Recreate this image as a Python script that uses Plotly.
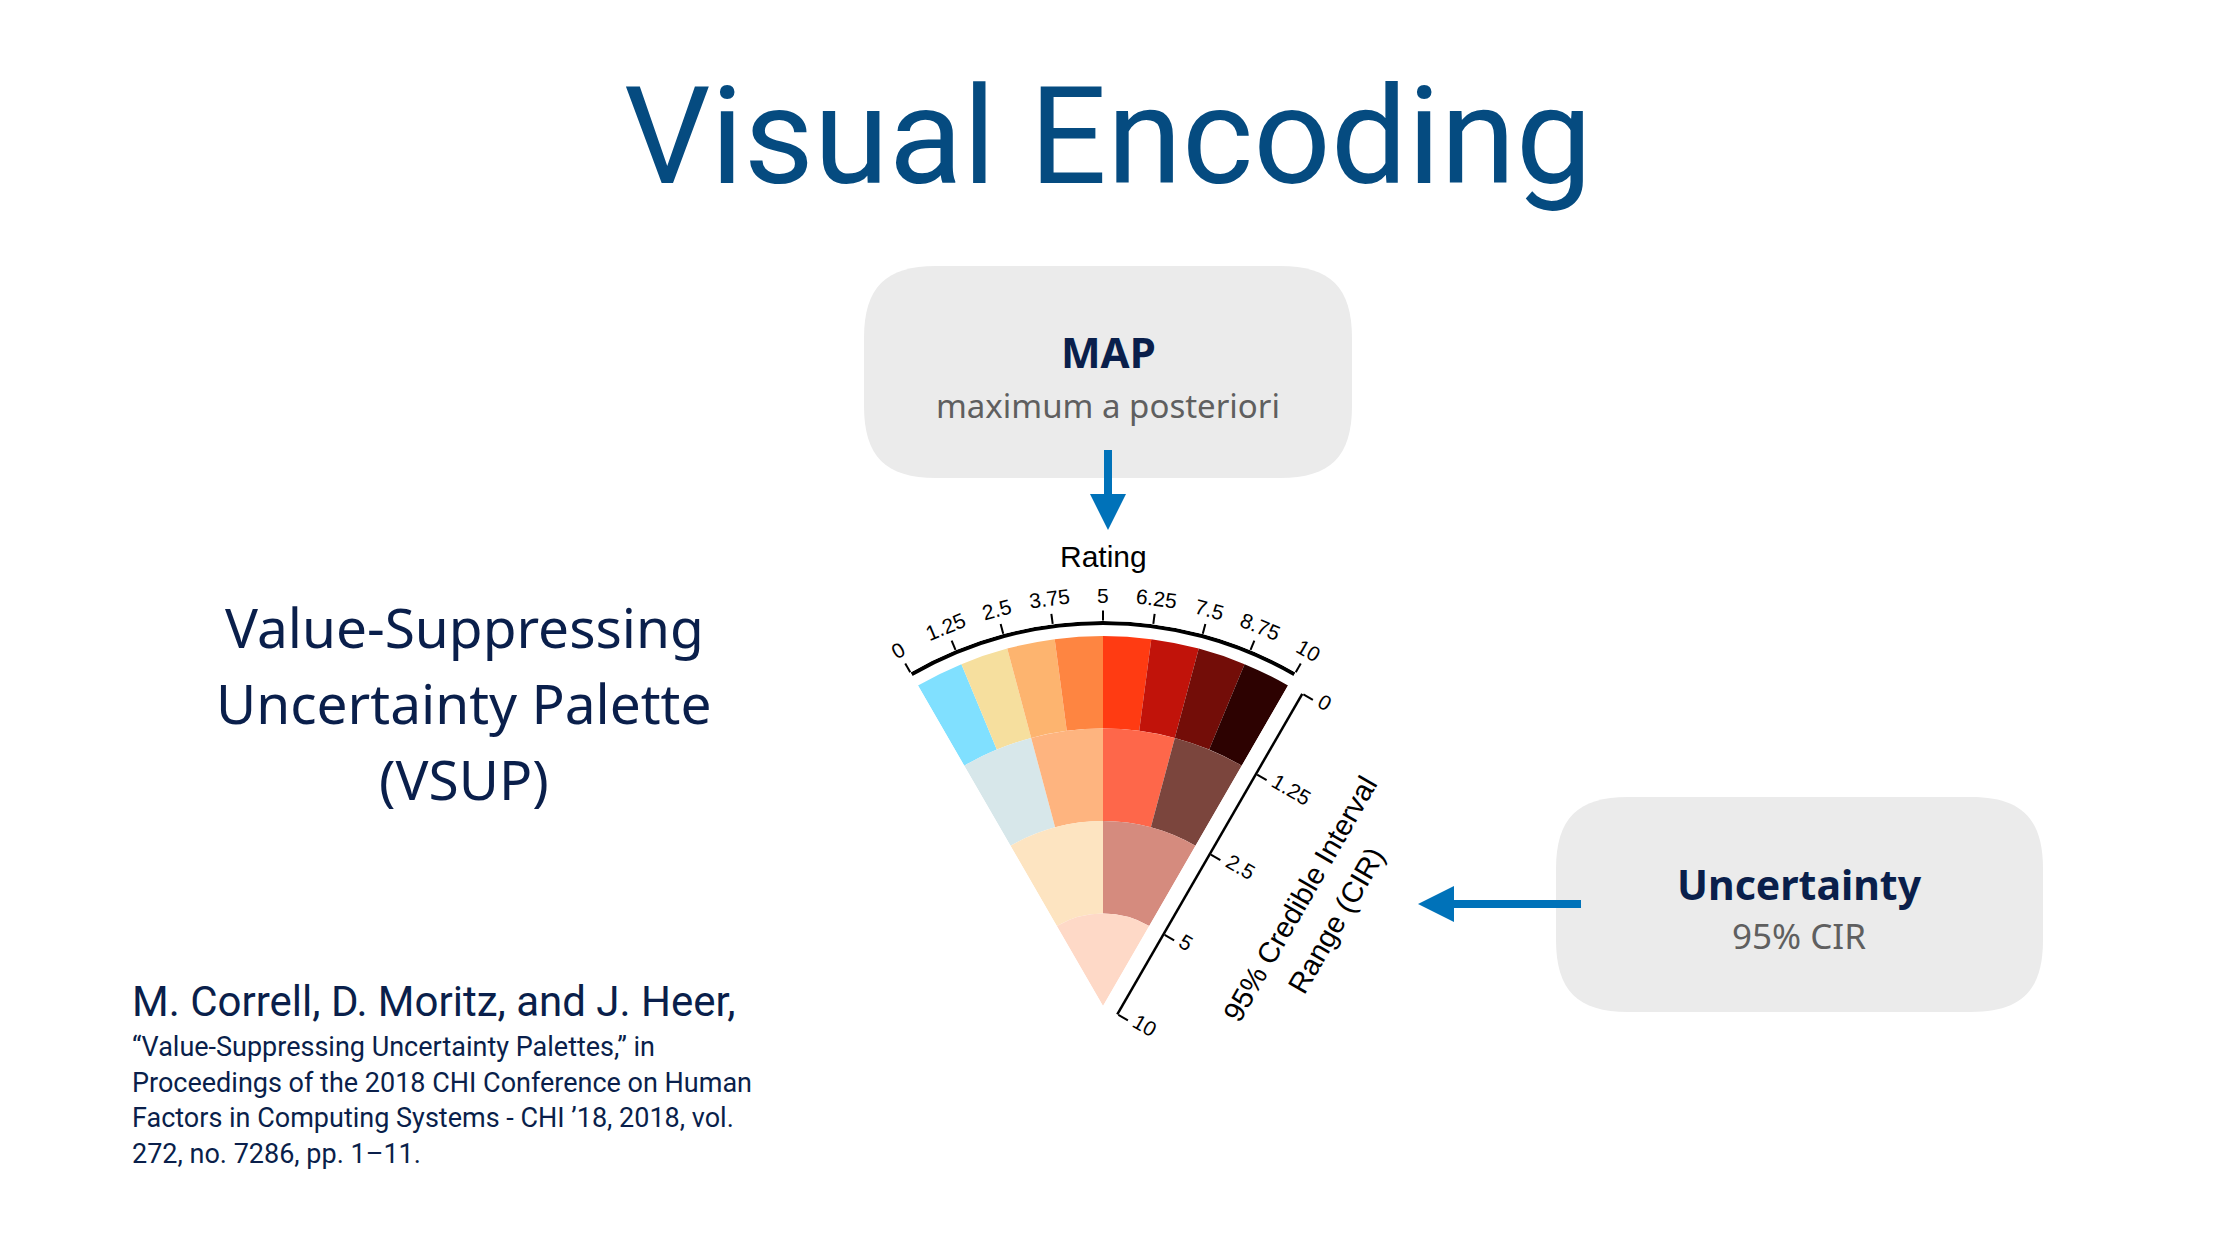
import math
import plotly.graph_objects as go

# ---------------- data ----------------
rating_ticks = [0, 1.25, 2.5, 3.75, 5, 6.25, 7.5, 8.75, 10]
rating_labels = ["0", "1.25", "2.5", "3.75", "5", "6.25", "7.5", "8.75", "10"]
cir_ticks = [0, 1.25, 2.5, 5, 10]
cir_labels = ["0", "1.25", "2.5", "5", "10"]

# VSUP colours, one list per uncertainty level (most certain first)
level0_colors = ["#80E0FF", "#F6DF9E", "#FDB46F", "#FE8541", "#FF3B12", "#C1130A", "#730D08", "#2D0201"]
level1_colors = ["#D7E7EA", "#FEB47F", "#FE674A", "#7B453D"]
level2_colors = ["#FDE4C1", "#D58B7E"]
level3_colors = ["#FED9C7"]
level_colors = [level0_colors, level1_colors, level2_colors, level3_colors]

title_text = "Visual Encoding"
vsup_lines = ["Value-Suppressing", "Uncertainty Palette", "(VSUP)"]
cite_head = "M. Correll, D. Moritz, and J. Heer,"
cite_lines = [
    "\u201cValue-Suppressing Uncertainty Palettes,\u201d in",
    "Proceedings of the 2018 CHI Conference on Human",
    "Factors in Computing Systems - CHI \u201918, 2018, vol.",
    "272, no. 7286, pp. 1\u201311.",
]

# ---------------- layout constants (pixels) ----------------
W, H = 2218, 1242
AX, AY = 1103, 1006          # apex of the wedge
R_WEDGE = 370                # outer radius of the cells
R_AXIS = 383                 # radius (centre of stroke) of the rating arc
ARC_W = 4                    # stroke width of the rating arc
HALF = 30                    # half opening angle (deg)
DEG_PER_RATING = 2 * HALF / (rating_ticks[-1] - rating_ticks[0])
N_RINGS = len(cir_ticks) - 1
RING_PX = R_WEDGE / N_RINGS
OFF = 16.5                   # offset of the CIR axis from the wedge edge
TICK_FS = 21

NAVY = "#0A1F4B"
BLUE = "#0072B9"
BOXGREY = "#EBEBEB"


def fx(x):
    return x / W


def fy(y):
    return 1 - y / H


def cir_pos(v):
    # radial position (ring units from apex) of an uncertainty tick
    return N_RINGS - cir_ticks.index(v)


fig = go.Figure()

# ---------------- VSUP cells ----------------
for lvl, cols in enumerate(level_colors):
    n = len(cols)
    step = (rating_ticks[-1] - rating_ticks[0]) / n
    lo = [rating_ticks[0] + j * step for j in range(n)]
    theta = [(l + step / 2) * DEG_PER_RATING for l in lo]
    inner = cir_pos(cir_ticks[lvl + 1])
    outer = cir_pos(cir_ticks[lvl])
    fig.add_trace(go.Barpolar(
        theta=theta,
        r=[outer - inner] * n,
        base=[inner] * n,
        width=[step * DEG_PER_RATING] * n,
        marker=dict(color=cols, line=dict(width=0)),
        hoverinfo="skip",
        showlegend=False,
        subplot="polar",
    ))

# rating axis arc (domain line of the angular axis, without the radial edges)
r_top = (R_AXIS + ARC_W / 2) / RING_PX
fig.add_trace(go.Barpolar(
    theta=[(rating_ticks[0] + rating_ticks[-1]) / 2 * DEG_PER_RATING],
    r=[ARC_W / RING_PX],
    base=[r_top - ARC_W / RING_PX],
    width=[(rating_ticks[-1] - rating_ticks[0]) * DEG_PER_RATING],
    marker=dict(color="black", line=dict(width=0)),
    hoverinfo="skip", showlegend=False, subplot="polar",
))

# invisible trace so the second polar (CIR axis) exists
fig.add_trace(go.Scatterpolar(r=[0], theta=[0], mode="markers",
                              marker=dict(opacity=0), hoverinfo="skip",
                              showlegend=False, subplot="polar2"))

# main polar: cells + rating arc
d1 = R_AXIS + ARC_W / 2
polar = dict(
    domain=dict(x=[fx(AX - d1 / 2), fx(AX + d1 / 2)], y=[fy(AY), fy(AY - d1)]),
    sector=[90 - HALF, 90 + HALF],
    bgcolor="rgba(0,0,0,0)",
    angularaxis=dict(
        rotation=90 + HALF, direction="clockwise",
        tickmode="array",
        tickvals=[t * DEG_PER_RATING for t in rating_ticks],
        ticks="outside", ticklen=10, tickwidth=2, tickcolor="black",
        showticklabels=False, showgrid=False, showline=False,
    ),
    radialaxis=dict(
        range=[0, r_top],
        showline=False, showgrid=False, showticklabels=False, ticks="",
    ),
)

# second polar: offset CIR axis along the right edge
c2x = AX + OFF * math.cos(math.radians(HALF))
c2y = AY + OFF * math.sin(math.radians(HALF))
d2 = R_WEDGE
polar2 = dict(
    domain=dict(x=[fx(c2x - d2 / 2), fx(c2x + d2 / 2)], y=[fy(c2y), fy(c2y - d2)]),
    sector=[90 - HALF, 90 + HALF],
    bgcolor="rgba(0,0,0,0)",
    angularaxis=dict(visible=False, showgrid=False, showline=False,
                     rotation=90 + HALF, direction="clockwise"),
    radialaxis=dict(
        range=[0, N_RINGS], angle=90 - HALF, side="clockwise",
        tickmode="array", tickvals=[cir_pos(v) for v in cir_ticks],
        ticks="outside", ticklen=11, tickwidth=2, tickcolor="black",
        showticklabels=False, showgrid=False,
        showline=True, linewidth=2.5, linecolor="black",
    ),
)

annotations = []
LABEL_FONT = "Liberation Sans, Arial, sans-serif"

# rating tick labels (rotated tangentially)
for t, lab in zip(rating_ticks, rating_labels):
    phi = -HALF + t * DEG_PER_RATING
    r = 411
    x = AX + r * math.sin(math.radians(phi))
    y = AY - r * math.cos(math.radians(phi))
    annotations.append(dict(x=fx(x), y=fy(y), xref="paper", yref="paper",
                            text=lab, showarrow=False, textangle=phi,
                            font=dict(family=LABEL_FONT, size=TICK_FS, color="black"),
                            xanchor="center", yanchor="middle"))

annotations.append(dict(x=fx(AX), y=fy(556), xref="paper", yref="paper",
                        text="Rating", showarrow=False,
                        font=dict(family=LABEL_FONT, size=30, color="black"),
                        xanchor="center", yanchor="middle"))

# CIR tick labels
ua = (math.sin(math.radians(HALF)), -math.cos(math.radians(HALF)))   # along axis (outwards)
up = (math.cos(math.radians(HALF)), math.sin(math.radians(HALF)))    # perpendicular (outwards)
for v, lab in zip(cir_ticks, cir_labels):
    d = cir_pos(v) * RING_PX
    w = sum(0.278 if ch == "." else 0.556 for ch in lab) * TICK_FS
    g = 18 + w / 2
    x = c2x + d * ua[0] + g * up[0] + 4 * ua[0]
    y = c2y + d * ua[1] + g * up[1] + 4 * ua[1]
    annotations.append(dict(x=fx(x), y=fy(y), xref="paper", yref="paper",
                            text=lab, showarrow=False, textangle=HALF,
                            font=dict(family=LABEL_FONT, size=TICK_FS, color="black"),
                            xanchor="center", yanchor="middle"))

# CIR axis title (two lines)
for txt, perp in [("95% Credible Interval", 101), ("Range (CIR)", 143)]:
    along = 191
    x = c2x + along * ua[0] + perp * up[0]
    y = c2y + along * ua[1] + perp * up[1]
    annotations.append(dict(x=fx(x), y=fy(y), xref="paper", yref="paper",
                            text=txt, showarrow=False, textangle=-(90 - HALF),
                            font=dict(family=LABEL_FONT, size=29, color="black"),
                            xanchor="center", yanchor="middle"))

# slide title
annotations.append(dict(x=fx(1108), y=fy(136), xref="paper", yref="paper",
                        text=title_text, showarrow=False,
                        font=dict(family="Roboto, sans-serif", size=136, color="#054B80"),
                        xanchor="center", yanchor="middle"))

# VSUP name
for i, line in enumerate(vsup_lines):
    annotations.append(dict(x=fx(464), y=fy(626 + i * 76), xref="paper", yref="paper",
                            text=line, showarrow=False,
                            font=dict(family="Noto Sans, sans-serif", size=55, color=NAVY),
                            xanchor="center", yanchor="middle"))

# citation
annotations.append(dict(x=fx(130), y=fy(1001), xref="paper", yref="paper",
                        text=cite_head, showarrow=False,
                        font=dict(family="Roboto, sans-serif", size=42, color=NAVY),
                        xanchor="left", yanchor="middle"))
for i, line in enumerate(cite_lines):
    annotations.append(dict(x=fx(130), y=fy(1047 + i * 35.5), xref="paper", yref="paper",
                            text=line, showarrow=False,
                            font=dict(family="Roboto, sans-serif", size=27, color=NAVY),
                            xanchor="left", yanchor="middle"))

# box texts
BOXFONT = "Noto Sans, sans-serif"
annotations += [
    dict(x=fx(1108), y=fy(352), text="<b>MAP</b>",
         font=dict(family=BOXFONT, size=42, color=NAVY)),
    dict(x=fx(1108), y=fy(405), text="maximum a posteriori",
         font=dict(family=BOXFONT, size=33, color="#5F5F5F")),
    dict(x=fx(1799), y=fy(884), text="<b>Uncertainty</b>",
         font=dict(family=BOXFONT, size=41, color=NAVY)),
    dict(x=fx(1799), y=fy(935), text="95% CIR",
         font=dict(family=BOXFONT, size=35, color="#5F5F5F")),
]
for a in annotations[-4:]:
    a.update(xref="paper", yref="paper", showarrow=False, xanchor="center", yanchor="middle")


# ---------------- shapes ----------------
def rounded_rect(x0, y0, x1, y1, r):
    rx, ry = r / W, r / H
    X0, X1 = fx(x0), fx(x1)
    Y0, Y1 = fy(y1), fy(y0)  # bottom, top in paper
    return (f"M {X0+rx},{Y0} L {X1-rx},{Y0} C {X1-rx*0.3},{Y0} {X1},{Y0+ry*0.3} {X1},{Y0+ry} "
            f"L {X1},{Y1-ry} C {X1},{Y1-ry*0.3} {X1-rx*0.3},{Y1} {X1-rx},{Y1} "
            f"L {X0+rx},{Y1} C {X0+rx*0.3},{Y1} {X0},{Y1-ry*0.3} {X0},{Y1-ry} "
            f"L {X0},{Y0+ry} C {X0},{Y0+ry*0.3} {X0+rx*0.3},{Y0} {X0+rx},{Y0} Z")


shapes = [
    dict(type="path", path=rounded_rect(864, 266, 1352, 478, 72), xref="paper", yref="paper",
         fillcolor=BOXGREY, line=dict(width=0), layer="below"),
    dict(type="path", path=rounded_rect(1556, 797, 2043, 1012, 72), xref="paper", yref="paper",
         fillcolor=BOXGREY, line=dict(width=0), layer="below"),
    # down arrow (MAP -> rating)
    dict(type="rect", x0=fx(1104), x1=fx(1112), y0=fy(496), y1=fy(450), xref="paper", yref="paper",
         fillcolor=BLUE, line=dict(width=0)),
    dict(type="path", path=f"M {fx(1090)},{fy(494)} L {fx(1126)},{fy(494)} L {fx(1108)},{fy(530)} Z",
         xref="paper", yref="paper", fillcolor=BLUE, line=dict(width=0)),
    # left arrow (Uncertainty -> CIR)
    dict(type="rect", x0=fx(1452), x1=fx(1581), y0=fy(908), y1=fy(900), xref="paper", yref="paper",
         fillcolor=BLUE, line=dict(width=0)),
    dict(type="path", path=f"M {fx(1454)},{fy(886)} L {fx(1454)},{fy(922)} L {fx(1418)},{fy(904)} Z",
         xref="paper", yref="paper", fillcolor=BLUE, line=dict(width=0)),
]

fig.update_layout(
    width=W, height=H,
    margin=dict(l=0, r=0, t=0, b=0, pad=0),
    paper_bgcolor="white", plot_bgcolor="white",
    polar=polar, polar2=polar2,
    annotations=annotations, shapes=shapes,
    showlegend=False,
)

fig.write_html("out.html", config={"displayModeBar": False},
               post_script="document.body.style.margin='0';")
